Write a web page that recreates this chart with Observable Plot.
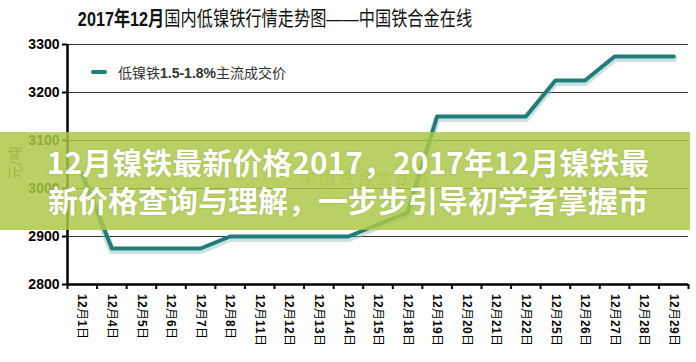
<!DOCTYPE html>
<html>
<head>
<meta charset="utf-8">
<script src="https://cdn.jsdelivr.net/npm/d3@7"></script>
<script src="https://cdn.jsdelivr.net/npm/@observablehq/plot@0.6"></script>
<style>
@font-face { font-family: "MixLbl"; src: local("Liberation Sans Bold"), local("LiberationSans-Bold"); unicode-range: U+0000-00FF; }
@font-face { font-family: "MixLbl"; src: local("Noto Sans CJK SC"), local("Noto Sans CJK SC Regular"), local("NotoSansCJKsc-Regular"); unicode-range: U+2000-9FFF, U+FF00-FFEF; }
html, body { margin: 0; padding: 0; background: #fff; }
#wrap { position: relative; width: 696px; height: 362px; overflow: hidden; font-family: "Liberation Sans", "Noto Sans CJK SC", sans-serif; }
#chart { position: absolute; left: 0; top: 0; }
#title { position: absolute; left: 275px; top: 3px; white-space: nowrap; font-size: 20px; color: #111; transform: translateX(-50%) scaleX(0.81); transform-origin: center; font-family: "Liberation Sans", "Noto Sans CJK SC", sans-serif; }
#title b { font-weight: bold; }
#legend { position: absolute; left: 91px; top: 62px; display: flex; align-items: center; font-size: 14px; color: #333; white-space: nowrap; }
#legend .sw { width: 16px; height: 4px; border-radius: 2px; background: #217c7a; margin-right: 11px; }
#ylab { position: absolute; left: 14px; top: 163px; transform: translate(-50%, -50%) rotate(-90deg); font-size: 14px; color: #555; white-space: nowrap; font-family: "Noto Sans CJK SC", sans-serif; }
#wm { position: absolute; left: 300px; top: 165px; font-size: 16px; letter-spacing: 3px; color: #c99a4a; opacity: 0.7; font-family: "Noto Sans CJK SC", serif; white-space: nowrap; }
#banner { position: absolute; left: 0; top: 132px; width: 690px; height: 98px; background: rgba(172, 200, 70, 0.84); }
#btext { position: absolute; left: 0; top: 132px; width: 696px; height: 98px; color: #fff; font-weight: bold; font-size: 30px; line-height: 38px; text-align: center; font-family: "Noto Sans CJK SC", sans-serif; text-shadow: 0 0 2px rgba(120,140,40,0.5); padding-top: 10px; box-sizing: border-box; }
#btext div { white-space: nowrap; }
</style>
</head>
<body>
<div id="wrap">
  <div id="chart"></div>
  <div id="title"><b>2017年12月</b>国内低镍铁行情走势图——中国铁合金在线</div>
  <div id="legend"><div class="sw"></div><span>低镍铁<b>1.5-1.8%</b>主流成交价</span></div>
  <div id="ylab">元/吨</div>
  <div id="wm">中国铁合金在线</div>
  <div id="banner"></div>
  <div id="btext"><div>12月镍铁最新价格2017，2017年12月镍铁最</div><div>新价格查询与理解，一步步引导初学者掌握市</div></div>
</div>
<script>
const dates = ["12月1日","12月4日","12月5日","12月6日","12月7日","12月8日","12月11日","12月12日","12月13日","12月14日","12月15日","12月18日","12月19日","12月20日","12月21日","12月22日","12月25日","12月26日","12月27日","12月28日","12月29日"];
const prices = [3030,2875,2875,2875,2875,2900,2900,2900,2900,2900,2925,2950,3150,3150,3150,3150,3225,3225,3275,3275,3275];
const yTicks = [2800,2900,3000,3100,3200,3300];

const data = dates.map((d, i) => ({date: d, idx: i + 0.5, price: prices[i]}));
const bounds = d3.range(dates.length + 1);

const chart = Plot.plot({
  width: 696,
  height: 362,
  marginTop: 44,
  marginLeft: 67,
  marginRight: 8,
  marginBottom: 78,
  style: {background: "transparent", overflow: "visible"},
  x: {type: "linear", domain: [0, dates.length], axis: null},
  y: {domain: [2800, 3300], axis: null},
  marks: [
    Plot.ruleY(yTicks.slice(1), {stroke: "#333", strokeWidth: 1}),
    Plot.axisY({ticks: yTicks, label: null, tickSize: 5, tickPadding: 3, fontSize: 14, fontWeight: "bold", strokeWidth: 2, stroke: "#000", fill: "#000", tickFormat: d => String(d), fontFamily: "Liberation Sans, Arial, sans-serif"}),
    Plot.axisX({ticks: bounds, label: null, tickSize: 5, strokeWidth: 2, stroke: "#000", tickFormat: () => ""}),
    Plot.ruleY([2800], {stroke: "#000", strokeWidth: 2.5}),
    Plot.ruleX([0], {stroke: "#000", strokeWidth: 2.5}),
    Plot.text(data, {x: "idx", y: () => 2800, text: "date", rotate: 90, textAnchor: "start", lineAnchor: "middle", dy: 9, fontSize: 12, fill: "#000", fontFamily: "MixLbl, Liberation Sans, Noto Sans CJK SC, sans-serif"}),
    Plot.line(data, {x: "idx", y: "price", stroke: "#8fbfbd", strokeOpacity: 0.45, strokeWidth: 7, dy: 2, strokeLinejoin: "round", strokeLinecap: "round"}),
    Plot.line(data, {x: "idx", y: "price", stroke: "#217c7a", strokeWidth: 4, strokeLinejoin: "round", strokeLinecap: "round"})
  ]
});
document.getElementById("chart").appendChild(chart);
</script>
</body>
</html>
